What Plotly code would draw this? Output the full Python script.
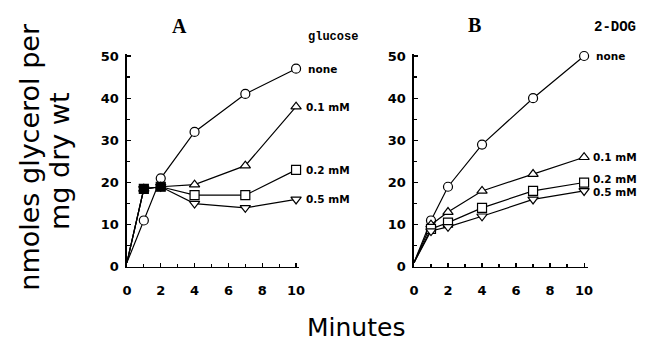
import plotly.graph_objects as go

minutes = [0, 1, 2, 4, 7, 10]
series_names = ["none", "0.1 mM", "0.2 mM", "0.5 mM"]
symbols = ["circle", "triangle-up", "square", "triangle-down"]

glucose_none = [1, 11, 21, 32, 41, 47]
glucose_01 = [1, 18.5, 19, 19.5, 24, 38]
glucose_02 = [1, 18.5, 19, 17, 17, 23]
glucose_05 = [1, 18.5, 19, 15, 14, 16]

dog_none = [1, 11, 19, 29, 40, 50]
dog_01 = [1, 10, 13, 18, 22, 26]
dog_02 = [1, 9, 10.5, 14, 18, 20]
dog_05 = [1, 8.5, 9.5, 12, 16, 18]

label_y_A = [47, 38, 23, 16]
label_y_B = [50, 26, 20.8, 17.8]

fig = go.Figure()

W, H = 652, 349
def px_x(p):
    return p / W
def px_y(p):
    return 1 - p / H

domA = [px_x(124), px_x(299.5)]
domB = [px_x(416), px_x(592.5)]
ydom = [px_y(272), px_y(50.8)]

panels = [
    ("x", "y", [glucose_none, glucose_01, glucose_02, glucose_05], label_y_A, [10, 8, 8, 8], [0, 1, 3, 2]),
    ("x2", "y2", [dog_none, dog_01, dog_02, dog_05], label_y_B, [10, 7, 7, 7], [0, 1, 2, 3]),
]

for pi, (xa, ya, data, ly, shifts, order) in enumerate(panels):
    for si in order:
        vals = data[si]
        sizes = [0] + [9] * (len(vals) - 1)
        fills = ["white"] * len(vals)
        if pi == 0 and si == 2:
            fills[1] = "black"
            fills[2] = "black"
        fig.add_trace(go.Scatter(
            x=minutes, y=vals, xaxis=xa, yaxis=ya, mode="lines+markers",
            line=dict(color="black", width=1.2),
            marker=dict(symbol=symbols[si], size=sizes, color=fills, opacity=1,
                        line=dict(color="black", width=1.2)),
            showlegend=False, cliponaxis=False, hoverinfo="skip",
        ))
    for si in range(4):
        fig.add_annotation(x=10, y=ly[si], xref=xa, yref=ya, text=series_names[si],
                           showarrow=False, xanchor="left", xshift=shifts[si],
                           font=dict(family="DejaVu Sans", size=10.5, color="black", weight="bold"))

axis_common = dict(
    showline=True, linecolor="black", linewidth=1.5, showgrid=False, zeroline=False,
    ticks="inside", ticklen=4, tickwidth=1.2, tickcolor="black",
    tickfont=dict(family="DejaVu Sans", size=13, color="black", weight="bold"),
)

fig.update_layout(
    width=W, height=H, margin=dict(l=0, r=0, t=0, b=0),
    paper_bgcolor="white", plot_bgcolor="white",
    xaxis=dict(domain=domA, range=[0, 10.2], tickvals=[0, 2, 4, 6, 8, 10],
               minor=dict(dtick=1, ticks="inside", ticklen=3, tickcolor="black"),
               anchor="y", ticklabelstandoff=11, **axis_common),
    yaxis=dict(domain=ydom, range=[0, 50.5], tickvals=[0, 10, 20, 30, 40, 50],
               minor=dict(dtick=5, ticks="inside", ticklen=3, tickcolor="black"),
               anchor="x", ticklabelstandoff=4, **axis_common),
    xaxis2=dict(domain=domB, range=[0, 10.2], tickvals=[0, 2, 4, 6, 8, 10],
                minor=dict(dtick=1, ticks="inside", ticklen=3, tickcolor="black"),
                anchor="y2", ticklabelstandoff=11, **axis_common),
    yaxis2=dict(domain=ydom, range=[0, 50.5], tickvals=[0, 10, 20, 30, 40, 50],
                minor=dict(dtick=5, ticks="inside", ticklen=3, tickcolor="black"),
                anchor="x2", ticklabelstandoff=4, **axis_common),
)

def ann(x, y, text, size, family, weight="normal", angle=0, xanchor="center"):
    fig.add_annotation(x=px_x(x), y=px_y(y), xref="paper", yref="paper", text=text,
                       showarrow=False, textangle=angle, xanchor=xanchor, yanchor="middle",
                       font=dict(family=family, size=size, color="black", weight=weight))

ann(178, 22, "A", 20, "Liberation Serif", "bold")
ann(478, 21, "B", 20, "Liberation Serif", "bold")
ann(306, 33, "glucose", 12, "Liberation Mono", "bold", xanchor="left")
ann(597, 23, "2-DOG", 14, "Liberation Mono", "bold", xanchor="left")
ann(25, 158, "nmoles glycerol per", 27, "DejaVu Sans", angle=-90)
ann(56, 162, "mg dry wt", 27, "DejaVu Sans", angle=-90)
ann(357, 335, "Minutes", 25, "DejaVu Sans")

fig.write_html("out.html", config={"displayModeBar": False, "staticPlot": True},
               post_script="document.body.style.margin='0';document.body.style.overflow='hidden';")
